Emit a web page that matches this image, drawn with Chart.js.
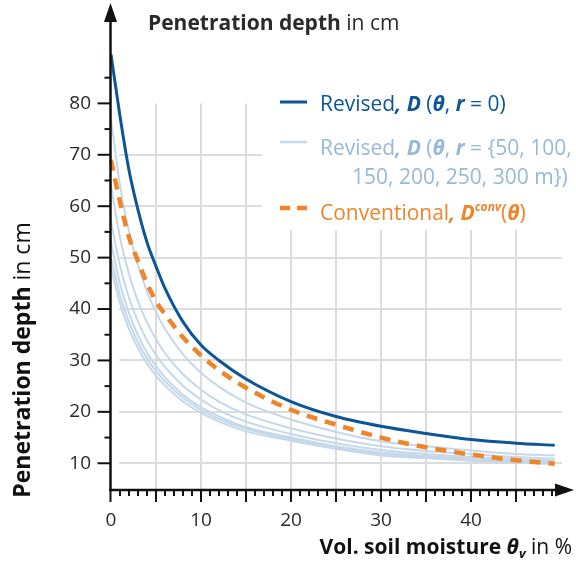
<!DOCTYPE html>
<html><head><meta charset="utf-8">
<script src="https://cdn.jsdelivr.net/npm/chart.js@4.4.1/dist/chart.umd.min.js"></script>
<style>html,body{margin:0;padding:0;background:#fff}</style>
</head><body>
<canvas id="c" width="576" height="561"></canvas>
<script>
// ---- data ----
const thetaPct = [0, 1, 2, 3, 4, 5, 6, 8, 10, 12, 15, 20, 25, 30, 35, 40, 45, 49.3];
const dRevised0 = [89.5, 77.5, 67, 59.3, 53, 48.3, 44, 37.5, 33, 30.0, 26.4, 22, 19.1, 17.2, 15.8, 14.6, 13.9, 13.5];
const dRevised50 = [77, 64.1, 55.1, 48.5, 43.4, 39.4, 36.1, 31.2, 27.6, 24.9, 21.8, 18.5, 16.1, 14.3, 13.3, 12.5, 11.8, 11.5];
const dRevised100 = [64, 53.9, 46.8, 41.5, 37.4, 34.1, 31.4, 27.3, 24.3, 22.0, 19.5, 16.8, 14.8, 13.3, 12.4, 11.8, 11.2, 10.9];
const dRevised150 = [57, 48.4, 42.2, 37.6, 33.9, 31.1, 28.7, 25.1, 22.4, 20.3, 18.1, 15.7, 13.9, 12.6, 11.8, 11.2, 10.8, 10.5];
const dRevised200 = [53, 44.9, 39.2, 34.9, 31.5, 28.9, 26.7, 23.3, 20.9, 19.1, 17.0, 15.0, 13.3, 12.1, 11.4, 10.9, 10.5, 10.2];
const dRevised250 = [50, 42.7, 37.5, 33.5, 30.4, 27.9, 25.9, 22.7, 20.4, 18.6, 16.7, 14.7, 13.1, 11.8, 11.2, 10.7, 10.3, 10.0];
const dRevised300 = [48, 41.1, 36.1, 32.4, 29.4, 27.0, 25.1, 22.0, 19.8, 18.1, 16.2, 14.4, 12.8, 11.5, 11.0, 10.5, 10.1, 9.9];
const dConventional = [69, 60.8, 54, 49.3, 45, 41.5, 39, 34.5, 31, 28.1, 24.7, 20.4, 17.5, 15.0, 13.1, 11.7, 10.6, 9.9];
const xTickLabels = [0, 10, 20, 30, 40];
const yTickLabels = [10, 20, 30, 40, 50, 60, 70, 80];
const xGridValues = [5, 10, 15, 20, 25, 30, 35, 40, 45];
const yGridValues = [10, 20, 30, 40, 50, 60, 70];

// ---- styles ----
const FONT = '"Open Sans", "Noto Sans", sans-serif';
const C_DARK = '#0b5599', C_LIGHT = '#c4d8ea', C_LIGHT_TXT = '#97b8d8', C_ORANGE = '#ef8429';
const C_AXIS = '#111', C_GRID = '#dcdcdc', C_TEXT = '#2a2a2a';

const pts = arr => thetaPct.map((t, i) => ({x: t, y: arr[i]}));
const lightSets = [dRevised50, dRevised100, dRevised150, dRevised200, dRevised250, dRevised300];

const datasets = [
  {data: pts(dConventional), borderColor: C_ORANGE, borderWidth: 4.5, borderDash: [11, 8], order: 0},
  {data: pts(dRevised0), borderColor: C_DARK, borderWidth: 3, order: 1},
  ...lightSets.map(a => ({data: pts(a), borderColor: C_LIGHT, borderWidth: 2, order: 2}))
].map(d => Object.assign({pointRadius: 0, fill: false, cubicInterpolationMode: 'monotone', clip: 8}, d));

function drawRuns(ctx, x, y, parts, align) {
  let w = 0;
  parts.forEach(p => { ctx.font = p.f; p.w = ctx.measureText(p.t).width; w += p.w; });
  let cx = align === 'right' ? x - w : (align === 'center' ? x - w / 2 : x);
  parts.forEach(p => { ctx.font = p.f; ctx.fillStyle = p.c; ctx.fillText(p.t, cx, y + (p.dy || 0)); cx += p.w; });
}

const deco = {
  id: 'deco',
  beforeDatasetsDraw(chart) {
    const {ctx, scales: {x, y}} = chart;
    ctx.save();
    ctx.strokeStyle = C_GRID; ctx.lineWidth = 2;
    yGridValues.forEach(v => {
      const py = Math.round(y.getPixelForValue(v));
      ctx.beginPath(); ctx.moveTo(x.getPixelForValue(0.9), py); ctx.lineTo(x.getPixelForValue(50.1), py); ctx.stroke();
    });
    xGridValues.forEach(v => {
      const px = Math.round(x.getPixelForValue(v));
      ctx.beginPath(); ctx.moveTo(px, y.getPixelForValue(80)); ctx.lineTo(px, y.bottom); ctx.stroke();
    });
    // legend background
    ctx.fillStyle = '#fff'; ctx.fillRect(262, 86, 314, 144);
    ctx.restore();
  },
  afterDatasetsDraw(chart) {
    const {ctx, scales: {x, y}} = chart;
    const ax = x.getPixelForValue(0) - 0.5, ay = y.bottom;
    ctx.save();
    ctx.strokeStyle = C_AXIS; ctx.fillStyle = C_AXIS; ctx.lineWidth = 2.5;
    ctx.beginPath(); ctx.moveTo(ax, ay + 1.2); ctx.lineTo(ax, 18); ctx.stroke();
    ctx.beginPath(); ctx.moveTo(ax - 1.2, ay); ctx.lineTo(558, ay); ctx.stroke();
    ctx.beginPath(); ctx.moveTo(ax, 3); ctx.lineTo(ax - 6.5, 22); ctx.lineTo(ax + 6.5, 22); ctx.closePath(); ctx.fill();
    ctx.beginPath(); ctx.moveTo(574, ay); ctx.lineTo(555, ay - 6.5); ctx.lineTo(555, ay + 6.5); ctx.closePath(); ctx.fill();
    ctx.lineWidth = 2;
    for (let v = 0; v <= 49; v++) {
      const px = x.getPixelForValue(v) - (v === 0 ? 0.5 : 0);
      const len = v % 5 === 0 ? 12 : 6;
      ctx.beginPath(); ctx.moveTo(px, ay); ctx.lineTo(px, ay + len); ctx.stroke();
    }
    for (let v = 10; v <= 85; v += 5) {
      const py = y.getPixelForValue(v);
      const len = v % 10 === 0 ? 13 : 6;
      ctx.beginPath(); ctx.moveTo(ax, py); ctx.lineTo(ax - len, py); ctx.stroke();
    }
    ctx.textBaseline = 'alphabetic';
    drawRuns(ctx, 148, 29.5, [
      {t: 'Penetration depth', f: 'bold 21px ' + FONT, c: C_TEXT},
      {t: ' in cm', f: '21px ' + FONT, c: C_TEXT}
    ]);
    ctx.save(); ctx.translate(30, 360); ctx.rotate(-Math.PI / 2);
    drawRuns(ctx, 0, 0, [
      {t: 'Penetration depth', f: 'bold 23px ' + FONT, c: '#111'},
      {t: ' in cm', f: '23px ' + FONT, c: '#111'}
    ], 'center');
    ctx.restore();
    drawRuns(ctx, 572, 553.5, [
      {t: 'Vol. soil moisture ', f: 'bold 21px ' + FONT, c: '#111'},
      {t: 'θ', f: 'italic bold 21px ' + FONT, c: '#111'},
      {t: 'v', f: 'italic bold 13px ' + FONT, c: '#111', dy: 4},
      {t: ' in %', f: '21px ' + FONT, c: '#111'}
    ], 'right');
    const R = '21px ' + FONT, BI = 'italic bold 21px ' + FONT;
    ctx.lineWidth = 3; ctx.strokeStyle = C_DARK;
    ctx.beginPath(); ctx.moveTo(280, 102); ctx.lineTo(307, 102); ctx.stroke();
    drawRuns(ctx, 320, 110.5, [
      {t: 'Revised', f: R, c: C_DARK}, {t: ', D', f: BI, c: C_DARK}, {t: ' (', f: R, c: C_DARK},
      {t: 'θ', f: BI, c: C_DARK}, {t: ', ', f: R, c: C_DARK}, {t: 'r', f: BI, c: C_DARK}, {t: ' = 0)', f: R, c: C_DARK}
    ]);
    ctx.lineWidth = 2.5; ctx.strokeStyle = C_LIGHT;
    ctx.beginPath(); ctx.moveTo(280, 142); ctx.lineTo(307, 142); ctx.stroke();
    drawRuns(ctx, 320, 154.5, [
      {t: 'Revised', f: R, c: C_LIGHT_TXT}, {t: ', D', f: BI, c: C_LIGHT_TXT}, {t: ' (', f: R, c: C_LIGHT_TXT},
      {t: 'θ', f: BI, c: C_LIGHT_TXT}, {t: ', ', f: R, c: C_LIGHT_TXT}, {t: 'r', f: BI, c: C_LIGHT_TXT},
      {t: ' = {50, 100,', f: R, c: C_LIGHT_TXT}
    ]);
    drawRuns(ctx, 352, 183.5, [{t: '150, 200, 250, 300 m})', f: R, c: C_LIGHT_TXT}]);
    ctx.lineWidth = 4.5; ctx.strokeStyle = C_ORANGE;
    ctx.beginPath(); ctx.moveTo(280, 208); ctx.lineTo(290, 208); ctx.moveTo(297, 208); ctx.lineTo(307, 208); ctx.stroke();
    drawRuns(ctx, 320, 219.5, [
      {t: 'Conventional', f: R, c: C_ORANGE}, {t: ', D', f: BI, c: C_ORANGE},
      {t: 'conv', f: 'italic bold 12px ' + FONT, c: C_ORANGE, dy: -9},
      {t: '(', f: R, c: C_ORANGE}, {t: 'θ', f: BI, c: C_ORANGE}, {t: ')', f: R, c: C_ORANGE}
    ]);
    ctx.restore();
  }
};

new Chart(document.getElementById('c').getContext('2d'), {
  type: 'line',
  data: {datasets},
  plugins: [deco],
  options: {
    responsive: false, animation: false, devicePixelRatio: 1,
    layout: {padding: {top: 8, right: 6, left: 0, bottom: 0}},
    plugins: {legend: {display: false}, tooltip: {enabled: false}},
    scales: {
      x: {
        type: 'linear', min: 0, max: 51,
        afterFit: s => { s.height = 71; },
        afterBuildTicks: s => { s.ticks = xTickLabels.map(v => ({value: v})); },
        grid: {display: false, drawTicks: false}, border: {display: false},
        ticks: {padding: 19, maxRotation: 0, autoSkip: false, color: C_TEXT, font: {family: FONT, size: 19}}
      },
      y: {
        type: 'linear', min: 4.8, max: 94,
        afterFit: s => { s.width = 111; },
        afterBuildTicks: s => { s.ticks = yTickLabels.map(v => ({value: v})); },
        grid: {display: false, drawTicks: false}, border: {display: false},
        ticks: {padding: 20, autoSkip: false, color: C_TEXT, font: {family: FONT, size: 19}}
      }
    }
  }
});
</script>
</body></html>
